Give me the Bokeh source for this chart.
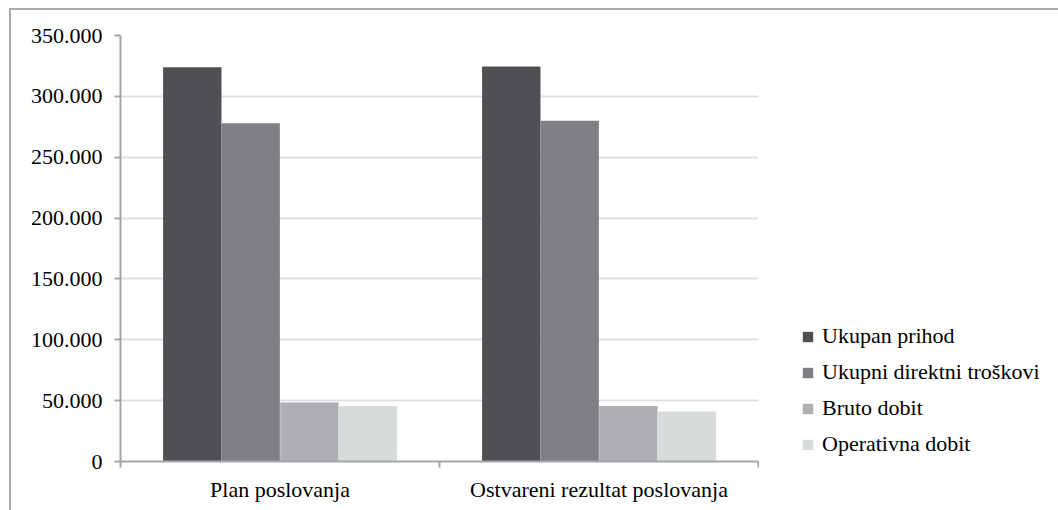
from bokeh.plotting import figure
from bokeh.layouts import row
from bokeh.models import FixedTicker, Legend, LegendItem, Range1d, ColumnDataSource
from bokeh.embed import file_html
from bokeh.resources import INLINE

categories = ["Plan poslovanja", "Ostvareni rezultat poslovanja"]
series = ["Ukupan prihod", "Ukupni direktni troškovi", "Bruto dobit", "Operativna dobit"]
ukupan_prihod = [324000, 324500]
ukupni_direktni_troskovi = [278000, 280000]
bruto_dobit = [48500, 45500]
operativna_dobit = [45500, 41000]
values = [ukupan_prihod, ukupni_direktni_troskovi, bruto_dobit, operativna_dobit]
y_ticks = [0, 50000, 100000, 150000, 200000, 250000, 300000, 350000]
y_tick_labels = ["0", "50.000", "100.000", "150.000", "200.000", "250.000", "300.000", "350.000"]

colors = ["#504f54", "#807f84", "#aeafb2", "#d8dbdb"]
offsets = [-0.275, -0.092, 0.092, 0.275]
bar_w = 0.183
FONT = "Liberation Serif"

p = figure(width=748, height=500, output_backend="svg", toolbar_location=None,
           x_range=Range1d(0, 2), y_range=Range1d(0, 350000),
           min_border_left=109, min_border_right=1, min_border_top=25, min_border_bottom=49)
p.outline_line_color = None
p.background_fill_color = "white"

for i, (name, vals) in enumerate(zip(series, values)):
    xs = [j + 0.5 + offsets[i] for j in range(len(categories))]
    src = ColumnDataSource(dict(x=xs, top=vals))
    p.vbar(x="x", top="top", bottom=0, width=bar_w, source=src,
           fill_color=colors[i], line_color=None)

# y axis
p.yaxis.ticker = FixedTicker(ticks=y_ticks)
p.yaxis.major_label_overrides = {t: l for t, l in zip(y_ticks, y_tick_labels)}
p.yaxis.major_label_text_font = FONT
p.yaxis.major_label_text_font_size = "22px"
p.yaxis.major_label_text_color = "black"
p.yaxis.axis_line_color = "#a6a6a6"
p.yaxis.axis_line_width = 2
p.yaxis.major_tick_line_color = "#a6a6a6"
p.yaxis.major_tick_line_width = 2
p.yaxis.major_tick_out = 6
p.yaxis.major_tick_in = 0
p.yaxis.minor_tick_line_color = None
p.yaxis.major_label_standoff = 12

# x axis
p.xaxis.ticker = FixedTicker(ticks=[0.5, 1.5], minor_ticks=[0, 1, 2])
p.xaxis.major_label_overrides = {0.5: categories[0], 1.5: categories[1]}
p.xaxis.major_label_text_font = FONT
p.xaxis.major_label_text_font_size = "22px"
p.xaxis.major_label_text_color = "black"
p.xaxis.axis_line_color = "#a6a6a6"
p.xaxis.axis_line_width = 2
p.xaxis.major_tick_line_color = None
p.xaxis.minor_tick_line_color = "#a6a6a6"
p.xaxis.minor_tick_line_width = 2
p.xaxis.minor_tick_out = 6
p.xaxis.minor_tick_in = 0
p.xaxis.major_label_standoff = 9

p.xgrid.grid_line_color = None
p.ygrid.ticker = FixedTicker(ticks=y_ticks)
p.ygrid.grid_line_color = "#dfe1e1"
p.ygrid.grid_line_width = 2
p.ygrid.level = "underlay"

# legend panel (proxy glyphs placed outside the visible range)
q = figure(width=299, height=500, output_backend="svg", toolbar_location=None,
           x_range=Range1d(0, 1), y_range=Range1d(0, 1),
           min_border_left=0, min_border_right=0, min_border_top=0, min_border_bottom=0)
q.axis.visible = False
q.grid.visible = False
q.outline_line_color = None
items = []
for i, name in enumerate(series):
    r = q.vbar(x=[5], top=[0.5], width=0.1, fill_color=colors[i], line_color=None)
    items.append(LegendItem(label=name, renderers=[r]))

legend = Legend(items=items, location=(42, 4), label_text_font=FONT)
legend.label_text_font_size = "22px"
legend.label_text_color = "black"
legend.glyph_width = 13
legend.glyph_height = 13
legend.label_standoff = 8
legend.spacing = 10
legend.padding = 0
legend.margin = 0
legend.border_line_color = None
legend.background_fill_alpha = 0
q.add_layout(legend, "center")

layout = row(p, q)
layout.styles = {"border-top": "2px solid #aaaaaa", "border-left": "2px solid #aaaaaa",
                 "margin-left": "9px", "margin-top": "8px"}

open("out.html", "w").write(file_html(layout, INLINE))
